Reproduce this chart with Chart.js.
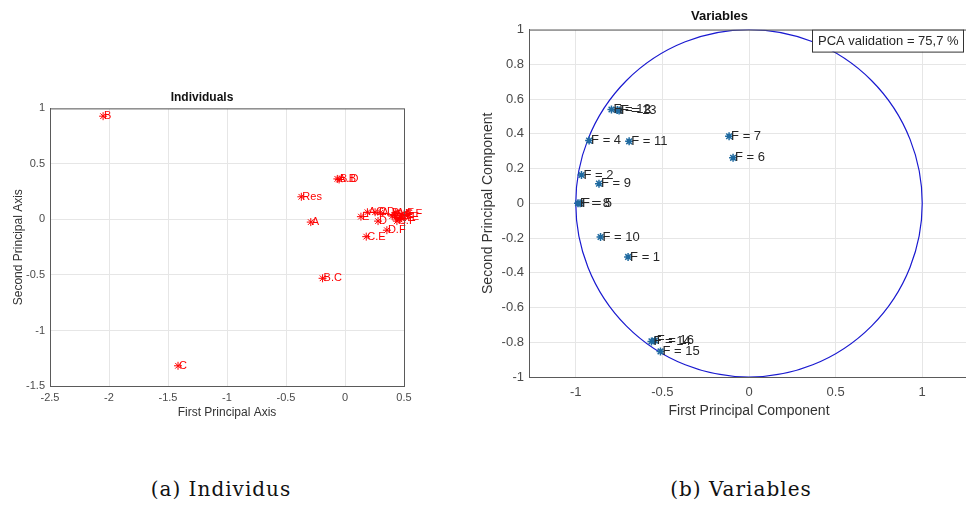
<!DOCTYPE html>
<html>
<head>
<meta charset="utf-8">
<script src="https://cdn.jsdelivr.net/npm/chart.js@4"></script>
<style>
  html, body { margin: 0; padding: 0; background: #fff; width: 966px; height: 506px; overflow: hidden; }
  canvas { position: absolute; }
  #left_chart { left: 0; top: 80px; }
  #right_chart { left: 470px; top: 0; }
  .caption { position: absolute; top: 477px; width: 300px; text-align: center; letter-spacing: 1px;
             font-family: "DejaVu Serif", serif; font-size: 20px; color: #111; }
</style>
</head>
<body>
<canvas id="left_chart" width="430" height="350"></canvas>
<canvas id="right_chart" width="520" height="430"></canvas>
<div class="caption" style="left:71px">(a) Individus</div>
<div class="caption" style="left:591px">(b) Variables</div>
<script>
// individuals (left plot)
var indNames = ['B', 'C', 'A', 'Res', 'A.B', 'B.D', 'B.C', 'C.E', 'D.F', 'E', 'A.C',
                'C.D', 'D', 'A.D', 'A.F', 'A.E', 'C.F', 'E.F', 'F', 'D.E', 'B.E', 'B.F'];
var indX = [-2.05, -1.415, -0.29, -0.37, -0.065, -0.05, -0.19, 0.18, 0.355, 0.135, 0.19,
            0.255, 0.28, 0.30, 0.43, 0.43, 0.44, 0.50, 0.46, 0.40, 0.47, 0.42];
var indY = [0.93, -1.318, -0.024, 0.204, 0.365, 0.36, -0.53, -0.155, -0.097, 0.025, 0.065,
            0.065, -0.015, 0.06, 0.06, 0.015, -0.015, 0.045, 0.0, 0.03, 0.02, 0.04];

// variables (right plot)
var varNames = ['F = 1', 'F = 2', 'F = 3', 'F = 4', 'F = 5', 'F = 6', 'F = 7', 'F = 8',
                'F = 9', 'F = 10', 'F = 11', 'F = 12', 'F = 13', 'F = 14', 'F = 15', 'F = 16'];
var varX = [-0.698, -0.967, -0.75, -0.923, -0.975, -0.092, -0.115, -0.987,
            -0.866, -0.857, -0.692, -0.794, -0.76, -0.563, -0.511, -0.544];
var varY = [-0.309, 0.163, 0.534, 0.361, 0.0, 0.262, 0.386, 0.0,
            0.113, -0.194, 0.357, 0.54, 0.537, -0.795, -0.853, -0.79];

var leftXTicks = [-2.5, -2, -1.5, -1, -0.5, 0, 0.5];
var leftYTicks = [-1.5, -1, -0.5, 0, 0.5, 1];
var rightXTicks = [-1, -0.5, 0, 0.5, 1];
var rightYTicks = [-1, -0.8, -0.6, -0.4, -0.2, 0, 0.2, 0.4, 0.6, 0.8, 1];
var pcaText = 'PCA validation = 75,7 %';

var sans = '"Liberation Sans", Arial, sans-serif';
var tickColor = '#4a4a4a';
var gridColor = '#e6e6e6';

function fixTicks(list) {
  return function(scale) { scale.ticks = list.map(function(v) { return {value: v}; }); };
}
function fmt(v) { return String(Math.round(v * 10) / 10); }

function axis(min, max, list, title, titleSize, size, isY, titlePad, tickPad) {
  return {
    type: 'linear', min: min, max: max,
    afterBuildTicks: fixTicks(list),
    afterFit: function(scale) { if (isY) scale.width = size; else scale.height = size; },
    grid: { color: gridColor, drawTicks: false },
    border: { display: true, color: '#5a5a5a' },
    ticks: { color: tickColor, font: { family: sans, size: titleSize - 1 }, padding: tickPad,
             callback: fmt, autoSkip: false, maxRotation: 0 },
    title: { display: true, text: title, color: '#333', padding: titlePad,
             font: { family: sans, size: titleSize } }
  };
}

// draw box, labels next to points
function labelsPlugin(names, font, color, dx) {
  return {
    id: 'ptLabels',
    afterDatasetsDraw: function(chart) {
      var ctx = chart.ctx, a = chart.chartArea;
      ctx.save();
      ctx.strokeStyle = '#5a5a5a';
      ctx.lineWidth = 1;
      ctx.strokeRect(a.left + 0.5, a.top + 0.5, a.right - a.left, a.bottom - a.top);
      ctx.font = font;
      ctx.fillStyle = color;
      ctx.textBaseline = 'middle';
      chart.getDatasetMeta(0).data.forEach(function(pt, i) {
        ctx.fillText(names[i], pt.x + dx, pt.y);
      });
      ctx.restore();
    }
  };
}

var circlePlugin = {
  id: 'unitCircle',
  beforeDatasetsDraw: function(chart) {
    var ctx = chart.ctx, a = chart.chartArea;
    var xs = chart.scales.x, ys = chart.scales.y;
    var cx = xs.getPixelForValue(0), cy = ys.getPixelForValue(0);
    var rx = xs.getPixelForValue(1) - cx, ry = cy - ys.getPixelForValue(1);
    ctx.save();
    ctx.beginPath();
    ctx.rect(a.left, a.top, a.right - a.left, a.bottom - a.top);
    ctx.clip();
    ctx.beginPath();
    ctx.ellipse(cx, cy, rx, ry, 0, 0, Math.PI * 2);
    ctx.strokeStyle = '#1a1ad0';
    ctx.lineWidth = 1.2;
    ctx.stroke();
    ctx.restore();
  }
};

var pcaBox = {
  id: 'pcaBox',
  afterDraw: function(chart) {
    var ctx = chart.ctx, a = chart.chartArea;
    ctx.save();
    ctx.font = '13px ' + sans;
    var w = 151, h = 22, x = a.right - 6 - w, y = a.top;
    ctx.fillStyle = '#fff';
    ctx.fillRect(x, y, w, h);
    ctx.strokeStyle = '#333';
    ctx.lineWidth = 1;
    ctx.strokeRect(x + 0.5, y + 0.5, w, h);
    ctx.fillStyle = '#262626';
    ctx.textBaseline = 'middle';
    ctx.fillText(pcaText, x + 6, y + h / 2 + 1);
    ctx.restore();
  }
};

var config1 = {
  type: 'scatter',
  data: {
    datasets: [{
      data: indX.map(function(v, i) { return {x: v, y: indY[i]}; }),
      pointStyle: 'star', radius: 4, borderColor: '#ff0000', borderWidth: 1,
      backgroundColor: '#ff0000'
    }]
  },
  options: {
    responsive: false, animation: false,
    layout: { padding: { left: 0, right: 26, top: 0, bottom: 0 } },
    plugins: {
      legend: { display: false }, tooltip: { enabled: false },
      title: { display: true, text: 'Individuals', color: '#111',
               font: { family: sans, size: 12, weight: 'bold' }, padding: { top: 10, bottom: 4 } }
    },
    scales: {
      x: axis(-2.5, 0.5, leftXTicks, 'First Principal Axis', 12, 44, false, { top: 0, bottom: 10 }, 5),
      y: axis(-1.5, 1, leftYTicks, 'Second Principal Axis', 12, 50, true, { top: 11, bottom: 0 }, 5)
    }
  },
  plugins: [labelsPlugin(indNames, '11px ' + sans, '#ff0000', 1)]
};

var config2 = {
  type: 'scatter',
  data: {
    datasets: [{
      data: varX.map(function(v, i) { return {x: v, y: varY[i]}; }),
      pointStyle: 'star', radius: 4, borderColor: '#1f6aa0', borderWidth: 1.5,
      backgroundColor: '#1f6aa0'
    }]
  },
  options: {
    responsive: false, animation: false,
    layout: { padding: { left: 0, right: 21, top: 0, bottom: 0 } },
    plugins: {
      legend: { display: false }, tooltip: { enabled: false },
      title: { display: true, text: 'Variables', color: '#111',
               font: { family: sans, size: 13, weight: 'bold' }, padding: { top: 9, bottom: 5 } }
    },
    scales: {
      x: axis(-1.27, 1.27, rightXTicks, 'First Principal Component', 14, 53, false, { top: 0, bottom: 10 }, 8),
      y: axis(-1, 1, rightYTicks, 'Second Principal Component', 14, 59, true, { top: 10, bottom: 0 }, 5)
    }
  },
  plugins: [circlePlugin, labelsPlugin(varNames, '13px ' + sans, '#262626', 2), pcaBox]
};

window.onload = function() {
  new Chart(document.getElementById('left_chart').getContext('2d'), config1);
  new Chart(document.getElementById('right_chart').getContext('2d'), config2);
};
</script>
</body>
</html>
